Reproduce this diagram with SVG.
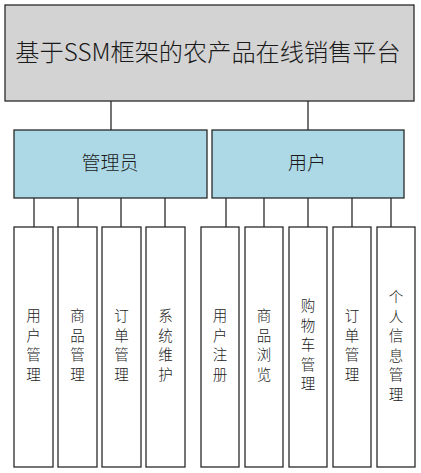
<svg xmlns="http://www.w3.org/2000/svg" width="421" height="473" viewBox="0 0 421 473">
<style>
.box{stroke:#2a2a2a;stroke-width:1.3}
.root{fill:#d3d3d3}
.mid{fill:#add8e6}
.leaf{fill:#ffffff}
.ln{stroke:#2a2a2a;stroke-width:1.3;fill:none}
text{font-family:"Microsoft YaHei","Noto Sans CJK SC","Noto Sans",sans-serif;fill:#1a1a1a;text-anchor:middle;font-weight:300}
.t0{font-size:24.2px}
.t1{font-size:19px}
.t2{font-size:14.5px}
</style>
<rect width="421" height="473" fill="#ffffff"/>
<g id="connectors">
<path class="ln" d="M111 101V130M308 101V130"/>
<path class="ln" d="M34 198V227M78 198V227M121 198V227M165 198V227"/>
<path class="ln" d="M226 198V227M264 198V227M308 198V227M352 198V227M391 198V227"/>
</g>
<g id="root">
<rect class="box root" x="5" y="5" width="409" height="96"/>
<text class="t0" x="208" y="61">基于SSM框架的农产品在线销售平台</text>
</g>
<g id="admin">
<rect class="box mid" x="14" y="130" width="193" height="68"/>
<text class="t1" x="110" y="170">管理员</text>
</g>
<g id="user">
<rect class="box mid" x="212" y="130" width="192" height="68"/>
<text class="t1" x="307" y="170">用户</text>
</g>
<g id="leaf1"><rect class="box leaf" x="14" y="227" width="39" height="240"/>
<text class="t2" x="33.5"><tspan x="33.5" y="321">用</tspan><tspan x="33.5" y="340.5">户</tspan><tspan x="33.5" y="360">管</tspan><tspan x="33.5" y="379.5">理</tspan></text></g>
<g id="leaf2"><rect class="box leaf" x="58" y="227" width="39" height="240"/>
<text class="t2" x="77.5"><tspan x="77.5" y="321">商</tspan><tspan x="77.5" y="340.5">品</tspan><tspan x="77.5" y="360">管</tspan><tspan x="77.5" y="379.5">理</tspan></text></g>
<g id="leaf3"><rect class="box leaf" x="102" y="227" width="39" height="240"/>
<text class="t2" x="121.5"><tspan x="121.5" y="321">订</tspan><tspan x="121.5" y="340.5">单</tspan><tspan x="121.5" y="360">管</tspan><tspan x="121.5" y="379.5">理</tspan></text></g>
<g id="leaf4"><rect class="box leaf" x="146" y="227" width="39" height="240"/>
<text class="t2" x="165.5"><tspan x="165.5" y="321">系</tspan><tspan x="165.5" y="340.5">统</tspan><tspan x="165.5" y="360">维</tspan><tspan x="165.5" y="379.5">护</tspan></text></g>
<g id="leaf5"><rect class="box leaf" x="201" y="227" width="38" height="240"/>
<text class="t2" x="220"><tspan x="220" y="321">用</tspan><tspan x="220" y="340.5">户</tspan><tspan x="220" y="360">注</tspan><tspan x="220" y="379.5">册</tspan></text></g>
<g id="leaf6"><rect class="box leaf" x="245" y="227" width="38" height="240"/>
<text class="t2" x="264"><tspan x="264" y="321">商</tspan><tspan x="264" y="340.5">品</tspan><tspan x="264" y="360">浏</tspan><tspan x="264" y="379.5">览</tspan></text></g>
<g id="leaf7"><rect class="box leaf" x="289" y="227" width="38" height="240"/>
<text class="t2" x="308"><tspan x="308" y="311">购</tspan><tspan x="308" y="330.5">物</tspan><tspan x="308" y="350">车</tspan><tspan x="308" y="369.5">管</tspan><tspan x="308" y="389">理</tspan></text></g>
<g id="leaf8"><rect class="box leaf" x="333" y="227" width="38" height="240"/>
<text class="t2" x="352"><tspan x="352" y="321">订</tspan><tspan x="352" y="340.5">单</tspan><tspan x="352" y="360">管</tspan><tspan x="352" y="379.5">理</tspan></text></g>
<g id="leaf9"><rect class="box leaf" x="377" y="227" width="38" height="240"/>
<text class="t2" x="396"><tspan x="396" y="302">个</tspan><tspan x="396" y="321.5">人</tspan><tspan x="396" y="341">信</tspan><tspan x="396" y="360.5">息</tspan><tspan x="396" y="380">管</tspan><tspan x="396" y="399.5">理</tspan></text></g>
</svg>
